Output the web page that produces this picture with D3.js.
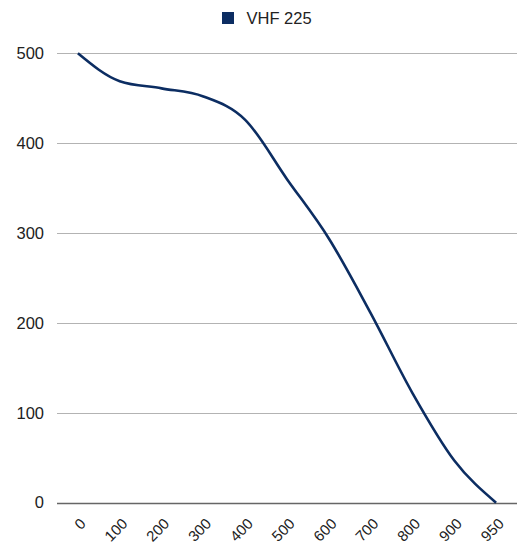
<!DOCTYPE html>
<html>
<head>
<meta charset="utf-8">
<script src="https://cdn.jsdelivr.net/npm/d3@7"></script>
<style>
  body { margin: 0; background: #fff; }
  text { font-family: "Liberation Sans", Arial, sans-serif; fill: #222; }
</style>
</head>
<body>
<script>
var categories = ['0', '100', '200', '300', '400', '500', '600', '700', '800', '900', '950'];
var values = [500, 469, 461, 452, 426, 360, 294, 211, 122, 47, 0];
var yTicks = [0, 100, 200, 300, 400, 500];
var seriesName = 'VHF 225';

var svgWidth = 523;
var svgHeight = 547;
var lineColor = '#0c2d62';

var svg = d3.select('body')
    .append('svg')
    .attr('width', svgWidth)
    .attr('height', svgHeight);

var x = d3.scaleBand()
    .domain(categories)
    .range([57, 517]);

var y = d3.scaleLinear()
    .domain([0, 500])
    .range([502.7, 53.3]);

// gridlines
svg.append('g')
    .selectAll('line')
    .data(yTicks)
    .enter()
    .append('line')
    .attr('x1', 57)
    .attr('x2', 517)
    .attr('y1', function (d) { return Math.round(y(d)) + 0.5; })
    .attr('y2', function (d) { return Math.round(y(d)) + 0.5; })
    .attr('stroke', function (d) { return d === 0 ? '#666' : '#b3b3b3'; })
    .attr('stroke-width', function (d) { return d === 0 ? 1.5 : 1; });

// y labels
svg.append('g')
    .selectAll('text')
    .data(yTicks)
    .enter()
    .append('text')
    .attr('x', 44)
    .attr('y', function (d) { return y(d); })
    .attr('dy', '0.35em')
    .attr('text-anchor', 'end')
    .style('font-size', '16.5px')
    .text(function (d) { return d; });

// x labels
svg.append('g')
    .selectAll('text')
    .data(categories)
    .enter()
    .append('text')
    .attr('transform', function (d) {
        return 'translate(' + (x(d) + x.bandwidth() / 2 + 5) + ',' + 521 + ') rotate(-45)';
    })
    .attr('dy', '0.35em')
    .attr('text-anchor', 'end')
    .style('font-size', '15px')
    .text(function (d) { return d; });

// the line
var line = d3.line()
    .x(function (d, i) { return x(categories[i]) + x.bandwidth() / 2; })
    .y(function (d) { return y(d); })
    .curve(d3.curveMonotoneX);

svg.append('path')
    .datum(values)
    .attr('d', line)
    .attr('fill', 'none')
    .attr('stroke', lineColor)
    .attr('stroke-width', 2.6);

// legend
var legend = svg.append('g');
legend.append('rect')
    .attr('x', 222)
    .attr('y', 12)
    .attr('width', 12)
    .attr('height', 12)
    .attr('fill', lineColor);
legend.append('text')
    .attr('x', 246.5)
    .attr('y', 23.5)
    .style('font-size', '16.5px')
    .text(seriesName);
</script>
</body>
</html>
